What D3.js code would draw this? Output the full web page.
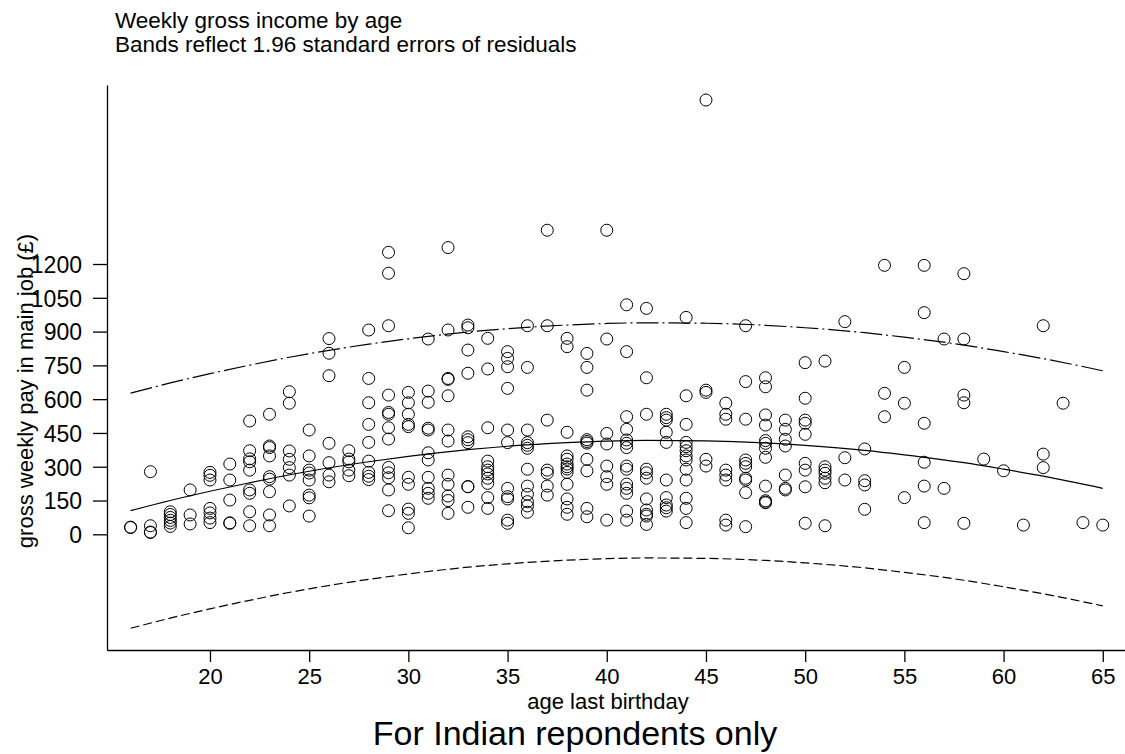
<!DOCTYPE html>
<html>
<head>
<meta charset="utf-8">
<script src="https://cdn.jsdelivr.net/npm/d3@7"></script>
<style>
  html, body { margin: 0; padding: 0; background: #fff; }
  svg { display: block; }
  text { font-family: "Liberation Sans", Arial, Helvetica, sans-serif; fill: #000; }
</style>
</head>
<body>
<svg id="chart" width="1125" height="754"></svg>
<script>
// ---- Data ----
const titleLines = ["Weekly gross income by age", "Bands reflect 1.96 standard errors of residuals"];
const xAxisTitle = "age last birthday";
const yAxisTitle = "gross weekly pay in main job (£)";
const caption = "For Indian repondents only";

const xTickValues = [20, 25, 30, 35, 40, 45, 50, 55, 60, 65];
const yTickValues = [0, 150, 300, 450, 600, 750, 900, 1050, 1200];

const ageCategories = [16,17,18,19,20,21,22,23,24,25,26,27,28,29,30,31,32,33,34,35,36,37,38,39,40,
                       41,42,43,44,45,46,47,48,49,50,51,52,53,54,55,56,57,58,59,60,61,62,63,64,65];

const payByAge = [
  [30, 32],                                                   // 16
  [278, 38, 8, 10],                                           // 17
  [100, 88, 75, 62, 50, 35],                                  // 18
  [197, 86, 46],                                              // 19
  [275, 262, 241, 115, 95, 72, 52],                           // 20
  [312, 241, 152, 49, 51],                                    // 21
  [503, 371, 335, 322, 285, 197, 182, 100, 38],               // 22
  [533, 392, 385, 348, 256, 245, 189, 86, 38],                // 23
  [633, 582, 370, 333, 296, 263, 126],                        // 24
  [463, 348, 285, 272, 241, 174, 162, 81],                    // 25
  [869, 804, 704, 404, 318, 263, 233],                        // 26
  [371, 334, 322, 285, 260],                                  // 27
  [907, 692, 584, 488, 408, 325, 275, 258, 243],              // 28
  [1252, 1159, 926, 618, 541, 533, 473, 423, 297, 273, 251, 197, 105], // 29
  [630, 584, 533, 488, 478, 253, 222, 112, 93, 29],           // 30
  [867, 636, 586, 471, 463, 362, 330, 253, 204, 182, 160],    // 31
  [1273, 907, 692, 688, 615, 463, 414, 263, 222, 170, 150, 93], // 32
  [929, 917, 818, 715, 433, 420, 407, 211, 212, 120],         // 33
  [870, 734, 473, 325, 300, 285, 268, 249, 226, 163, 115],    // 34
  [811, 781, 744, 648, 463, 407, 204, 167, 157, 63, 49],      // 35
  [926, 741, 463, 407, 395, 382, 289, 214, 178, 145, 126, 98], // 36
  [1350, 926, 507, 285, 271, 214, 174],                       // 37
  [870, 833, 453, 348, 333, 312, 300, 290, 275, 222, 157, 120, 89], // 38
  [803, 741, 640, 420, 412, 405, 333, 282, 115, 78],          // 39
  [1350, 867, 448, 401, 303, 256, 222, 63],                   // 40
  [1019, 811, 522, 466, 419, 404, 385, 303, 289, 223, 204, 182, 103, 63], // 41
  [1003, 695, 533, 289, 273, 249, 157, 108, 89, 81, 44],      // 42
  [533, 518, 507, 453, 408, 241, 163, 130, 118, 103],         // 43
  [963, 615, 488, 408, 389, 371, 348, 330, 289, 241, 160, 115, 52], // 44
  [1928, 640, 630, 333, 303],                                 // 45
  [582, 533, 511, 285, 263, 241, 63, 41],                     // 46
  [926, 678, 511, 330, 315, 300, 249, 241, 185, 34],          // 47
  [695, 655, 530, 485, 416, 404, 382, 342, 214, 149, 143, 140], // 48
  [507, 466, 422, 392, 263, 204, 197],                        // 49
  [762, 604, 507, 493, 444, 315, 285, 211, 49],               // 50
  [769, 300, 285, 271, 249, 229, 38],                         // 51
  [944, 340, 241],                                            // 52
  [379, 238, 219, 111],                                       // 53
  [1194, 626, 522],                                           // 54
  [741, 582, 163],                                            // 55
  [1194, 984, 493, 320, 214, 52],                             // 56
  [867, 204],                                                 // 57
  [1157, 867, 618, 584, 49],                                  // 58
  [334],                                                      // 59
  [282],                                                      // 60
  [41],                                                       // 61
  [926, 356, 296],                                            // 62
  [582],                                                      // 63
  [52],                                                       // 64
  [41]                                                        // 65
];

// fitted quadratic and its bands at these ages
const fitAges    = [16, 18, 20, 22, 25, 28, 30, 33, 35, 38, 40, 42, 45, 48, 50, 53, 55, 58, 60, 62, 65];
const fitPay     = [105, 150, 191, 229, 280, 322, 346, 376, 391, 407, 414, 417, 415, 406, 395, 373, 353, 318, 289, 258, 204];
const upperBand  = [627, 672, 713, 751, 802, 844, 868, 898, 913, 929, 936, 939, 937, 928, 917, 895, 875, 840, 811, 780, 726];
const lowerBand  = [-417, -372, -331, -293, -242, -200, -176, -146, -131, -115, -108, -105, -107, -116, -127, -149, -169, -204, -233, -264, -318];

// ---- Chart ----
const svg = d3.select("#chart");
const plotLeft = 107, plotRight = 1125, plotTop = 85, plotBottom = 650;

const x = d3.scaleLinear().domain([14.81, 66.12]).range([plotLeft, plotRight]);
const y = d3.scaleLinear().domain([-513.6, 1994.7]).range([plotBottom, plotTop]);

// title
svg.selectAll("text.title").data(titleLines).join("text")
  .attr("class", "title")
  .attr("x", 115)
  .attr("y", (d, i) => 28 + i * 24)
  .attr("font-size", 22.5)
  .text(d => d);

// axes
const yAxis = d3.axisLeft(y).tickValues(yTickValues).tickSize(14).tickSizeOuter(0).tickPadding(11)
  .tickFormat(d3.format("d"));
const gy = svg.append("g").attr("transform", `translate(${plotLeft},0)`).call(yAxis);
gy.selectAll("text").attr("font-size", 23).attr("dy", "0.36em");
gy.selectAll("path, line").attr("stroke", "#000").attr("stroke-width", 1.3);

const xAxis = d3.axisBottom(x).tickValues(xTickValues).tickSize(12).tickSizeOuter(0).tickPadding(6);
const gx = svg.append("g").attr("transform", `translate(0,${plotBottom})`).call(xAxis);
gx.selectAll("text").attr("font-size", 22);
gx.selectAll("path, line").attr("stroke", "#000").attr("stroke-width", 1.3);

// axis titles
svg.append("text")
  .attr("transform", `translate(33,${391}) rotate(-90)`)
  .attr("text-anchor", "middle")
  .attr("font-size", 22)
  .text(yAxisTitle);

svg.append("text")
  .attr("x", 608).attr("y", 709)
  .attr("text-anchor", "middle")
  .attr("font-size", 22)
  .text(xAxisTitle);

svg.append("text")
  .attr("x", 575).attr("y", 745)
  .attr("text-anchor", "middle")
  .attr("font-size", 34)
  .text(caption);

// fit line & bands
const line = d3.line().x(d => x(d[0])).y(d => y(d[1])).curve(d3.curveMonotoneX);
const plot = svg.append("g");
plot.append("path")
  .attr("d", line(fitAges.map((a, i) => [a, upperBand[i]])))
  .attr("fill", "none").attr("stroke", "#000").attr("stroke-width", 1.2)
  .attr("stroke-dasharray", "22,4,2,4");
plot.append("path")
  .attr("d", line(fitAges.map((a, i) => [a, lowerBand[i]])))
  .attr("fill", "none").attr("stroke", "#000").attr("stroke-width", 1.2)
  .attr("stroke-dasharray", "9,4");
plot.append("path")
  .attr("d", line(fitAges.map((a, i) => [a, fitPay[i]])))
  .attr("fill", "none").attr("stroke", "#000").attr("stroke-width", 1.2);

// points
const points = [];
ageCategories.forEach((a, i) => payByAge[i].forEach(v => points.push([a, v])));
plot.selectAll("circle").data(points).join("circle")
  .attr("cx", d => x(d[0]))
  .attr("cy", d => y(d[1]))
  .attr("r", 6)
  .attr("fill", "none")
  .attr("stroke", "#000")
  .attr("stroke-width", 1);
</script>
</body>
</html>
